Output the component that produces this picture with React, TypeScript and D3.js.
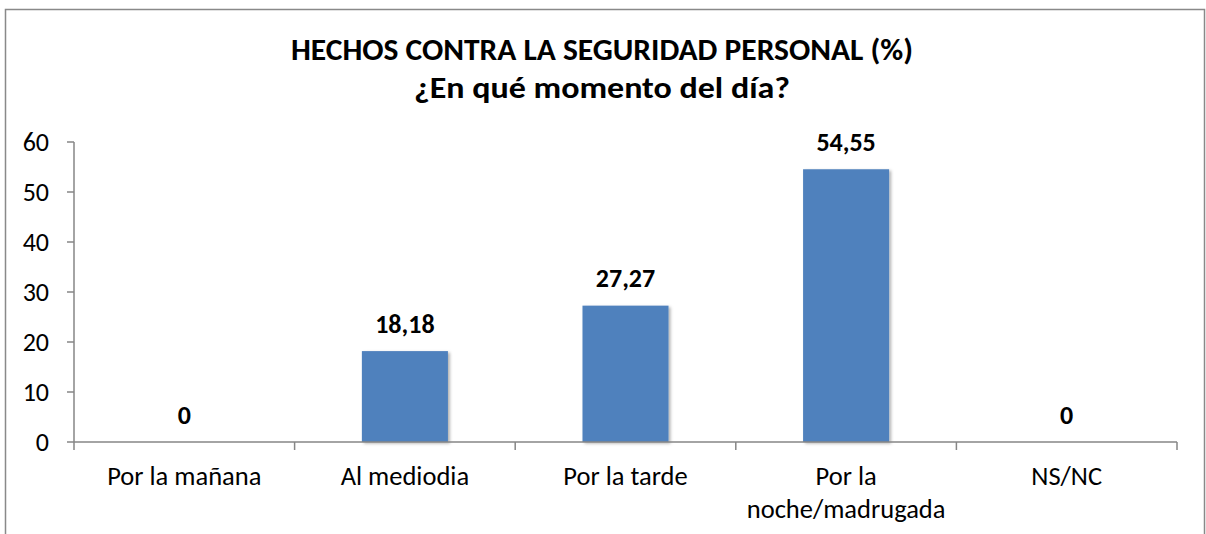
import React from "react";
import * as d3 from "d3";

const categories: string[][] = [
  ["Por la mañana"],
  ["Al mediodia"],
  ["Por la tarde"],
  ["Por la", "noche/madrugada"],
  ["NS/NC"],
];
const values: number[] = [0, 18.18, 27.27, 54.55, 0];
const valueLabels: string[] = ["0", "18,18", "27,27", "54,55", "0"];
const yTicks: number[] = [0, 10, 20, 30, 40, 50, 60];
const titleLines: string[] = [
  "HECHOS CONTRA LA SEGURIDAD PERSONAL (%)",
  "¿En qué momento del día?",
];
const titleWidths: number[] = [622, 376];

const W = 1206;
const H = 534;
const plot = { left: 74, right: 1177, top: 142, bottom: 442 };
const FONT = "Carlito, Calibri, Lato, 'Open Sans', sans-serif";
const AXIS = "#868686";

export default function App() {
  const x = d3
    .scaleBand<number>()
    .domain(d3.range(categories.length))
    .range([plot.left, plot.right])
    .paddingInner(0.61)
    .paddingOuter(0.305);
  const xCat = d3
    .scaleBand<number>()
    .domain(d3.range(categories.length))
    .range([plot.left, plot.right]);
  const y = d3.scaleLinear().domain([0, 60]).range([plot.bottom, plot.top]);

  return (
    <div style={{ position: "absolute", left: 0, top: 0 }}>
      <svg width={W} height={H} style={{ display: "block" }}>
        <defs>
          <filter id="sh" x="-20%" y="-20%" width="150%" height="150%">
            <feDropShadow dx="2" dy="1.5" stdDeviation="1.5" floodColor="#000" floodOpacity="0.3" />
          </filter>
        </defs>
        <rect x={0} y={0} width={W} height={H} fill="#fff" />
        <rect x={5.5} y={9.5} width={1199} height={600} fill="none" stroke="#898989" strokeWidth={1.5} />

        {titleLines.map((t, i) => (
          <text
            key={i}
            x={602}
            y={60 + i * 38}
            textAnchor="middle"
            fontFamily={FONT}
            fontWeight="bold"
            fontSize={31}
            textLength={titleWidths[i]}
            lengthAdjust="spacingAndGlyphs"
            fill="#000"
          >
            {t}
          </text>
        ))}

        {/* y axis */}
        <line x1={plot.left} x2={plot.left} y1={plot.top} y2={plot.bottom} stroke={AXIS} strokeWidth={1.5} />
        {yTicks.map((t) => (
          <g key={t}>
            <line x1={plot.left - 7} x2={plot.left} y1={y(t)} y2={y(t)} stroke={AXIS} strokeWidth={1.5} />
            <text
              x={49}
              y={y(t)}
              dy="0.33em"
              textAnchor="end"
              fontFamily={FONT}
              fontSize={26}
              fill="#000"
            >
              {t}
            </text>
          </g>
        ))}

        {/* bars */}
        {values.map((v, i) =>
          v > 0 ? (
            <rect
              key={i}
              x={x(i)!}
              y={y(v)}
              width={x.bandwidth()}
              height={y(0) - y(v)}
              fill="#4F81BD"
              filter="url(#sh)"
            />
          ) : null
        )}

        {/* x axis */}
        <line x1={plot.left} x2={plot.right} y1={plot.bottom} y2={plot.bottom} stroke={AXIS} strokeWidth={1.5} />
        {d3.range(categories.length + 1).map((i) => {
          const xx = i < categories.length ? xCat(i)! : plot.right;
          return (
            <line key={i} x1={xx} x2={xx} y1={plot.bottom} y2={plot.bottom + 8} stroke={AXIS} strokeWidth={1.5} />
          );
        })}

        {categories.map((lines, i) => (
          <text
            key={i}
            x={xCat(i)! + xCat.bandwidth() / 2}
            y={485}
            textAnchor="middle"
            fontFamily={FONT}
            fontSize={26.5}
            fill="#000"
          >
            {lines.map((l, j) => (
              <tspan key={j} x={xCat(i)! + xCat.bandwidth() / 2} dy={j === 0 ? 0 : 33}>
                {l}
              </tspan>
            ))}
          </text>
        ))}

        {values.map((v, i) => (
          <text
            key={i}
            x={xCat(i)! + xCat.bandwidth() / 2}
            y={y(v) - 18.5}
            textAnchor="middle"
            fontFamily={FONT}
            fontWeight="bold"
            fontSize={26}
            fill="#000"
          >
            {valueLabels[i]}
          </text>
        ))}
      </svg>
    </div>
  );
}
